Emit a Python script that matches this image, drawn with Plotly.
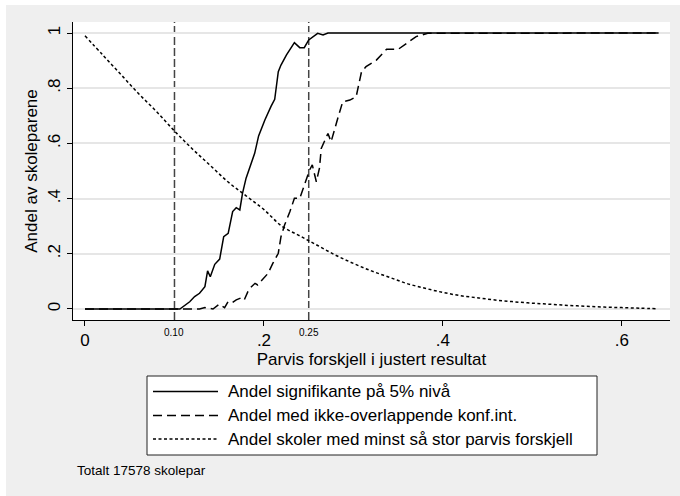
import plotly.graph_objects as go

# Share of school pairs by pairwise difference in adjusted results
sig_x = [0, 0.10, 0.106, 0.117, 0.1225, 0.128, 0.134, 0.137, 0.140, 0.145, 0.1505,
         0.155, 0.160, 0.165, 0.169, 0.173, 0.176, 0.180, 0.185, 0.1896, 0.194,
         0.201, 0.208, 0.212, 0.216, 0.219, 0.225, 0.234, 0.240, 0.245, 0.250,
         0.260, 0.266, 0.2715, 0.641]
sig_y = [0, 0, 0, 0.026, 0.045, 0.057, 0.081, 0.138, 0.117, 0.162, 0.181,
         0.262, 0.274, 0.353, 0.367, 0.359, 0.419, 0.474, 0.52, 0.564, 0.627,
         0.685, 0.735, 0.76, 0.86, 0.884, 0.92, 0.965, 0.947, 0.947, 0.975,
         0.999, 0.993, 1.0, 1.0]

ci_x = [0, 0.128, 0.134, 0.143, 0.150, 0.156, 0.160, 0.165, 0.169, 0.175, 0.178,
        0.182, 0.186, 0.190, 0.193, 0.199, 0.2045, 0.210, 0.216, 0.219, 0.223,
        0.229, 0.234, 0.240, 0.245, 0.251, 0.254, 0.2585, 0.262, 0.264, 0.2715,
        0.275, 0.283, 0.288, 0.296, 0.303, 0.309, 0.314, 0.3256, 0.337, 0.350,
        0.359, 0.370, 0.383, 0.641]
ci_y = [0, 0, 0.005, 0, 0.017, 0.005, 0.027, 0.024, 0.033, 0.041, 0.033,
        0.063, 0.081, 0.093, 0.087, 0.111, 0.129, 0.166, 0.202, 0.262, 0.304,
        0.353, 0.401, 0.401, 0.449, 0.504, 0.522, 0.461, 0.51, 0.582, 0.636,
        0.606, 0.697, 0.751, 0.757, 0.769, 0.86, 0.878, 0.902, 0.941, 0.941,
        0.963, 0.987, 0.999, 1.0]

share_x = [0, 0.02, 0.04, 0.06, 0.08, 0.10, 0.12, 0.14, 0.16, 0.18, 0.20, 0.22,
           0.24, 0.26, 0.28, 0.30, 0.32, 0.34, 0.36, 0.38, 0.40, 0.42, 0.44,
           0.46, 0.48, 0.50, 0.52, 0.54, 0.56, 0.58, 0.60, 0.62, 0.64]
share_y = [0.99, 0.92, 0.85, 0.78, 0.715, 0.645, 0.58, 0.52, 0.46, 0.41, 0.36,
           0.30, 0.265, 0.23, 0.195, 0.165, 0.138, 0.115, 0.092, 0.075, 0.060,
           0.048, 0.040, 0.032, 0.026, 0.021, 0.017, 0.013, 0.010, 0.007, 0.005,
           0.003, 0.001]

series_names = ["Andel signifikante på 5% nivå",
                "Andel med ikke-overlappende konf.int.",
                "Andel skoler med minst så stor parvis forskjell"]
series_dash = ["solid", "9px,5px", "3px,2.5px"]

x_ticks = [0, 0.2, 0.4, 0.6]
x_ticktext = ["0", ".2", ".4", ".6"]
y_ticks = [0, 0.2, 0.4, 0.6, 0.8, 1.0]
y_ticktext = ["0", ".2", ".4", ".6", ".8", "1"]
ref_lines = [0.10, 0.25]
ref_labels = ["0.10", "0.25"]

FONT = "Liberation Sans, Arial, Helvetica, sans-serif"
W, H = 680, 496
L, R, T, B = 73, 10, 22, 176
pw, ph = W - L - R, H - T - B


def px_x(p):
    return (p - L) / pw


def px_y(p):
    return (H - B - p) / ph


fig = go.Figure()
fig.add_trace(go.Scatter(x=sig_x, y=sig_y, mode="lines", name=series_names[0],
                         line=dict(color="black", width=1.5, dash=series_dash[0])))
fig.add_trace(go.Scatter(x=ci_x, y=ci_y, mode="lines", name=series_names[1],
                         line=dict(color="black", width=1.5, dash=series_dash[1])))
fig.add_trace(go.Scatter(x=share_x, y=share_y, mode="lines", name=series_names[2],
                         line=dict(color="black", width=1.5, dash=series_dash[2],
                                   shape="spline")))

shapes = [
    # outer graph region
    dict(type="rect", xref="paper", yref="paper", x0=px_x(6), x1=px_x(W + 2),
         y0=px_y(H + 2), y1=px_y(5), fillcolor="#efefef", line_width=0,
         layer="below"),
    # plot region
    dict(type="rect", xref="paper", yref="paper", x0=0, x1=1, y0=0, y1=1,
         fillcolor="white", line_width=0, layer="below"),
    # legend box
    dict(type="rect", xref="paper", yref="paper", x0=px_x(147), x1=px_x(597),
         y0=px_y(455), y1=px_y(376), fillcolor="white",
         line=dict(color="#222", width=1), layer="below"),
]
for v in ref_lines:
    shapes.append(dict(type="line", xref="x", yref="paper", x0=v, x1=v, y0=0, y1=1,
                       line=dict(color="#444", width=1.5, dash="8px,3px"),
                       layer="below"))

annotations = [
    dict(text=t, x=v, xref="x", y=px_y(332), yref="paper", showarrow=False,
         font=dict(family=FONT, size=10, color="black"), yanchor="middle")
    for v, t in zip(ref_lines, ref_labels)
]

# legend rows: sample line plus label
legend_rows = [391.5, 415.5, 439]
for name, dash, row in zip(series_names, series_dash, legend_rows):
    shapes.append(dict(type="line", xref="paper", yref="paper",
                       x0=px_x(153), x1=px_x(218), y0=px_y(row), y1=px_y(row),
                       line=dict(color="black", width=1.5, dash=dash)))
    annotations.append(dict(text=name, x=px_x(226), xref="paper", xanchor="left",
                            y=px_y(row), yref="paper", yanchor="middle",
                            showarrow=False,
                            font=dict(family=FONT, size=17, color="black")))

annotations.append(dict(text="Totalt 17578 skolepar", x=px_x(75), xref="paper",
                        xanchor="left", y=px_y(470), yref="paper", yanchor="middle",
                        showarrow=False,
                        font=dict(family=FONT, size=13.5, color="black")))

fig.update_layout(
    width=W, height=H,
    margin=dict(l=L, r=R, t=T, b=B),
    paper_bgcolor="white", plot_bgcolor="rgba(0,0,0,0)",
    font=dict(family=FONT, size=17, color="black"),
    shapes=shapes, annotations=annotations,
    showlegend=False,
    xaxis=dict(range=[-0.0134, 0.6537], tickvals=x_ticks, ticktext=x_ticktext,
               showgrid=False, zeroline=False, showline=True, linecolor="black",
               linewidth=1, ticks="outside", ticklen=5, tickcolor="black",
               tickfont=dict(size=17),
               title=dict(text="Parvis forskjell i justert resultat",
                          font=dict(size=17), standoff=1)),
    yaxis=dict(range=[-0.0399, 1.0399], tickvals=y_ticks, ticktext=y_ticktext,
               showgrid=True, gridcolor="#e6e6e6", gridwidth=1.5, zeroline=False,
               showline=True, linecolor="black", linewidth=1, ticks="outside",
               ticklen=5, tickcolor="black", tickangle=-90, tickfont=dict(size=17),
               title=dict(text="Andel av skoleparene", font=dict(size=17),
                          standoff=3)),
)

fig.write_html("out.html")
